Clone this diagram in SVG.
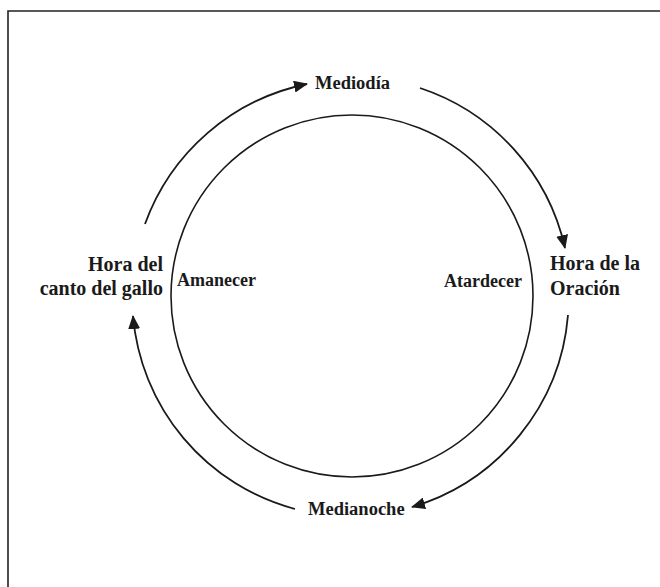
<svg xmlns="http://www.w3.org/2000/svg" width="660" height="587" viewBox="0 0 660 587">
<style>
.lbl{font-family:"Liberation Serif","Times New Roman",serif;font-weight:bold;fill:#1a1a1a}
.big{font-size:20px}
.mid{font-size:18.5px}
.sm{font-size:18px}
.arc{fill:none;stroke:#1a1a1a;stroke-width:1.8;marker-end:url(#ah)}
</style>
<defs>
<marker id="ah" markerUnits="userSpaceOnUse" markerWidth="14" markerHeight="12" refX="13" refY="6" orient="auto" viewBox="0 0 14 12">
<path d="M0,0 L14,6 L0,12 Z" fill="#1a1a1a"/>
</marker>
</defs>
<rect width="660" height="587" fill="#fff"/>
<path d="M8,587 V11 H660" fill="none" stroke="#222" stroke-width="1.6"/>
<g id="cycle">
<circle cx="352" cy="296" r="181" fill="none" stroke="#1a1a1a" stroke-width="1.6"/>
</g>
<g id="connectors">
<path class="arc" d="M145,224 A219,219 0 0 1 307,84"/>
<path class="arc" d="M420,88 A219,219 0 0 1 565,248"/>
<path class="arc" d="M568,315 A219,219 0 0 1 412,507"/>
<path class="arc" d="M295,509 A219,219 0 0 1 133,316"/>
</g>
<g id="mediodia"><text class="lbl mid" x="315" y="89">Mediodía</text></g>
<g id="hora-oracion"><text class="lbl big" x="550" y="270">Hora de la</text><text class="lbl big" x="550" y="295">Oración</text></g>
<g id="medianoche"><text class="lbl mid" x="308" y="515">Medianoche</text></g>
<g id="hora-gallo"><text class="lbl big" x="163" y="271" text-anchor="end">Hora del</text><text class="lbl big" x="163" y="295" text-anchor="end">canto del gallo</text></g>
<g id="amanecer"><text class="lbl sm" x="177" y="286">Amanecer</text></g>
<g id="atardecer"><text class="lbl sm" x="444" y="287">Atardecer</text></g>
</svg>
